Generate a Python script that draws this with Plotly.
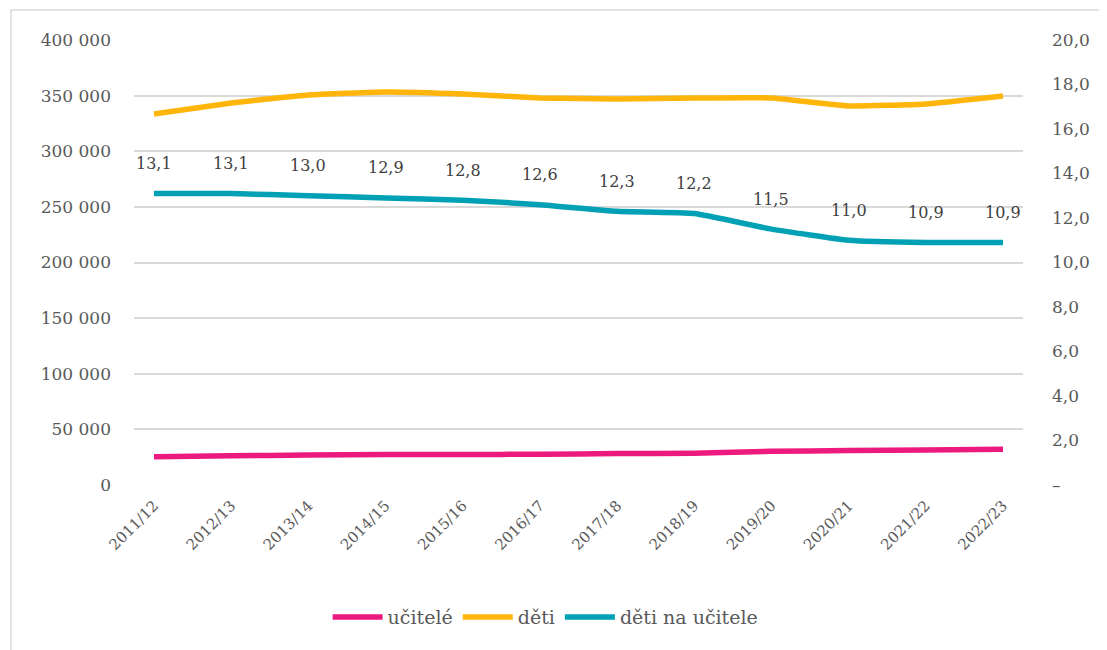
import plotly.graph_objects as go

years = ["2011/12", "2012/13", "2013/14", "2014/15", "2015/16", "2016/17",
         "2017/18", "2018/19", "2019/20", "2020/21", "2021/22", "2022/23"]
ucitele = [25460, 26210, 26970, 27390, 27460, 27610, 28210, 28520, 30250, 30970, 31420, 32080]
deti = [333500, 343400, 350600, 353300, 351500, 347900, 347000, 347900, 347900, 340700, 342500, 349700]
deti_na_ucitele = [13.1, 13.1, 13.0, 12.9, 12.8, 12.6, 12.3, 12.2, 11.5, 11.0, 10.9, 10.9]

left_ticks = [0, 50000, 100000, 150000, 200000, 250000, 300000, 350000, 400000]
right_ticks = [0, 2, 4, 6, 8, 10, 12, 14, 16, 18, 20]
right_ticktext = ["–"] + [f"{v:.1f}".replace(".", ",") for v in right_ticks[1:]]

FONT = "DejaVu Serif"
TXT = "#595959"
GRID = "#D9D9D9"

fig = go.Figure()
fig.add_trace(go.Scatter(x=years, y=ucitele, name="učitelé", mode="lines",
                         line=dict(color="#EC1A7E", width=5.5, shape="spline", smoothing=0.4)))
fig.add_trace(go.Scatter(x=years, y=deti, name="děti", mode="lines",
                         line=dict(color="#FFB50A", width=5.5, shape="spline", smoothing=0.4)))
fig.add_trace(go.Scatter(x=years, y=deti_na_ucitele, name="děti na učitele", mode="lines",
                         yaxis="y2",
                         line=dict(color="#00A1B5", width=5.5, shape="spline", smoothing=0.4)))

for x, v in zip(years, deti_na_ucitele):
    fig.add_annotation(x=x, y=v, xref="x", yref="y2", text=f"{v:.1f}".replace(".", ","),
                       showarrow=False, yshift=30, font=dict(family=FONT, size=16, color="#404040"))

fig.add_shape(type="rect", xref="paper", yref="paper", x0=-0.1384, y0=-0.5, x1=1.2, y1=1.0674,
              line=dict(color="#D9D9D9", width=1.5), fillcolor="rgba(0,0,0,0)", layer="below")

fig.update_layout(
    width=1099, height=642,
    margin=dict(l=126, r=84, t=32, b=165),
    paper_bgcolor="white", plot_bgcolor="white",
    separators=", ",
    font=dict(family=FONT, color=TXT, size=15),
    showlegend=True,
    legend=dict(orientation="h", x=0.463, xanchor="center", y=-0.297, yanchor="middle",
                font=dict(family=FONT, size=19, color=TXT), itemwidth=50,
                traceorder="normal"),
    xaxis=dict(type="category", tickangle=-45, showgrid=False, showline=False,
               ticks="", tickfont=dict(family=FONT, size=15, color=TXT), ticklabelstandoff=8),
    yaxis=dict(range=[0, 400000], tickvals=left_ticks, tickformat=",d", showgrid=True,
               gridcolor=GRID, gridwidth=1.5, zeroline=False, showline=False, ticks="",
               tickfont=dict(family=FONT, size=17, color=TXT), ticklabelstandoff=22),
    yaxis2=dict(range=[0, 20], tickvals=right_ticks, ticktext=right_ticktext, overlaying="y",
                side="right", showgrid=False, zeroline=False, showline=False, ticks="",
                tickfont=dict(family=FONT, size=17, color=TXT), ticklabelstandoff=28),
)

fig.write_html("out.html")
